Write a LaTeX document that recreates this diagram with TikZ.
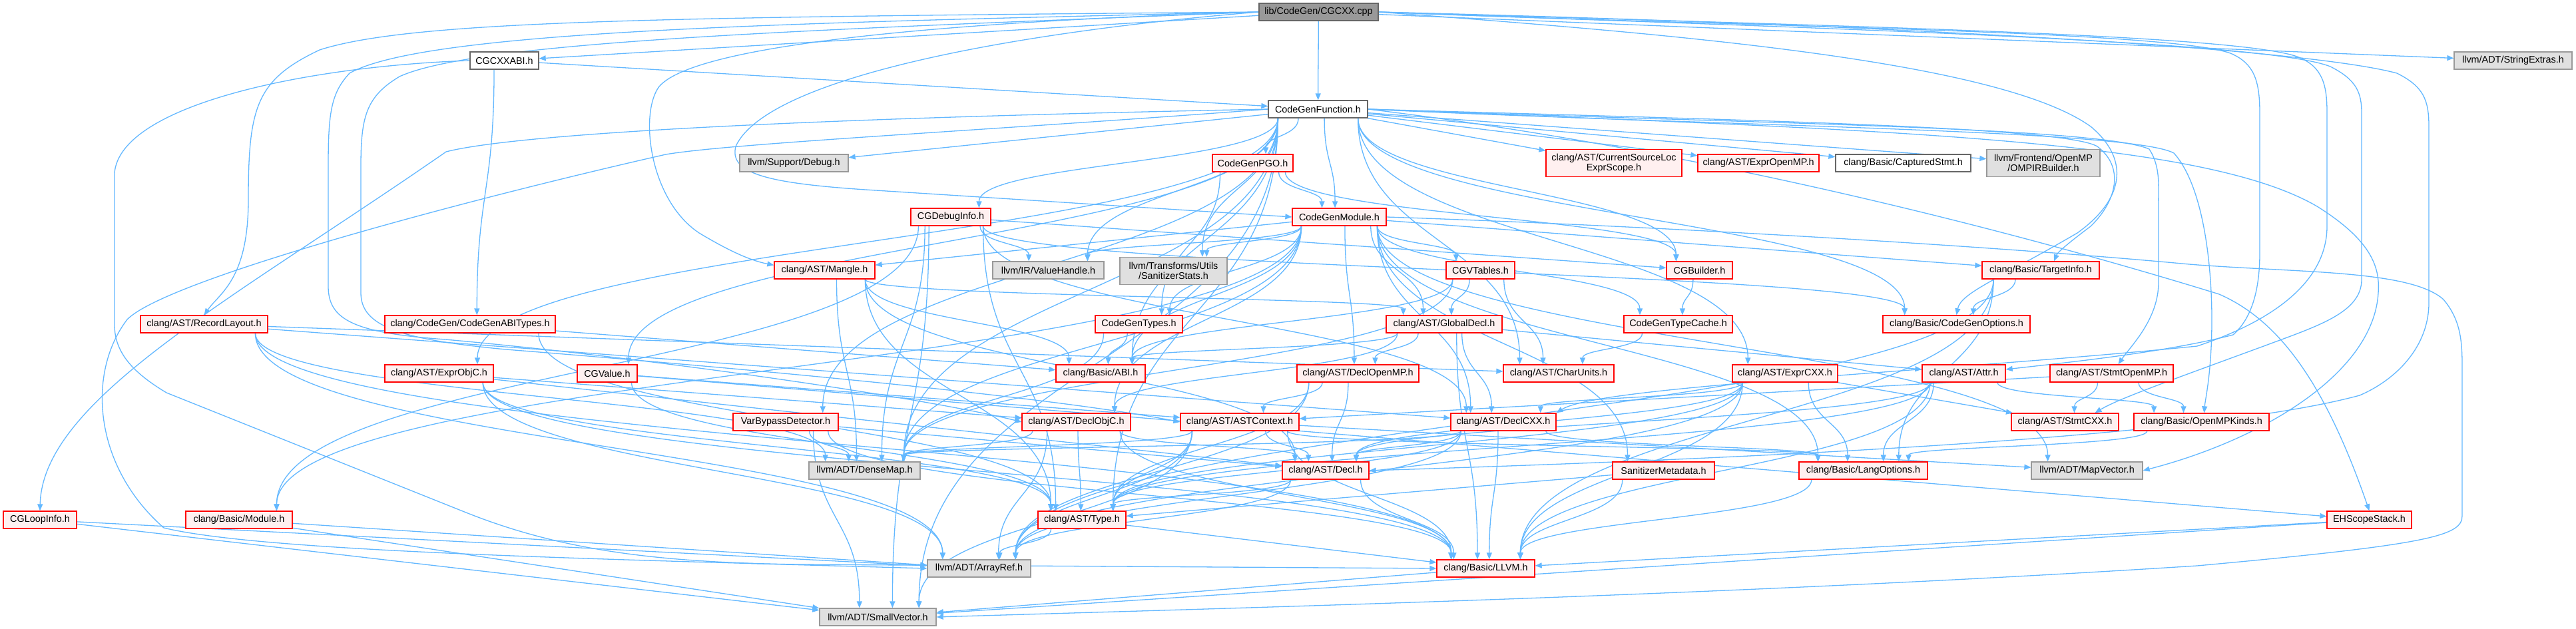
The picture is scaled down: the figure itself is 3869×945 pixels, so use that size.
\documentclass[tikz,border=0pt]{standalone}
\usepackage{fontspec}
\setmainfont{Liberation Sans}
\usetikzlibrary{arrows.meta,calc}
\pgfdeclarelayer{bg}
\pgfsetlayers{bg,main}
\definecolor{edgec}{HTML}{63B8FF}
\definecolor{rfill}{HTML}{FFF0F0}
\definecolor{gfill}{HTML}{E0E0E0}
\definecolor{gborder}{HTML}{999999}
\definecolor{wborder}{HTML}{666666}
\definecolor{rootfill}{HTML}{999999}
\tikzset{
 base/.style={rectangle, inner sep=0pt, minimum height=26pt, align=center, font=\fontsize{14.4}{15}\selectfont, line width=1.3pt},
 rn/.style={base, draw=red, fill=rfill},
 gn/.style={base, draw=gborder, fill=gfill},
 wn/.style={base, draw=wborder, fill=white},
 rootn/.style={base, draw=wborder, fill=rootfill},
 two/.style={minimum height=41pt},
 arr/.style={draw=edgec, line width=1.3pt, -{Triangle[length=10pt,width=8pt]}},
}
\newcommand\mynode[6]{\node[#1, minimum width=#2pt] (#3) at (#4,#5) {#6};}
\newcommand\sedge[2]{\draw[arr] (#1) -- (#2);}
\newcommand\cedge[2]{\draw[arr] let \p1=(#1.south), \p2=(#2.north), \p3=(#1.south east), \p4=(#2.north east),
 \n1={max(-0.8*(\x3-\x1),min(0.8*(\x3-\x1),0.3*(\x2-\x1)))},
 \n2={max(-0.7*(\x4-\x2),min(0.7*(\x4-\x2),0.2*(\x1-\x2)))}
 in ({\x1+\n1},\y1) .. controls ({\x1+\n1},{0.5*(\y1+\y2)}) and ({\x2+\n2},{0.5*(\y1+\y2)}) .. ({\x2+\n2},\y2);}
\begin{document}
\begin{tikzpicture}[x=1pt,y=-1pt]
\useasboundingbox (0,0) rectangle (3869,945);
% nodes
\mynode{rootn}{179}{root}{1980.5}{18}{lib/CodeGen/CGCXX.cpp}
\mynode{wn}{103}{abi}{757.5}{91}{CGCXXABI.h}
\mynode{gn}{177}{strx}{3774.5}{91}{llvm/ADT/StringExtras.h}
\mynode{wn}{149}{cgf}{1979.5}{164}{CodeGenFunction.h}
\mynode{gn}{163}{dbg}{1192.5}{245}{llvm/Support/Debug.h}
\mynode{rn}{121}{pgo}{1881.5}{245}{CodeGenPGO.h}
\mynode{rn,two}{204}{csl}{2424}{245}{clang/AST/CurrentSourceLoc\\ExprScope.h}
\mynode{rn}{182}{eomp}{2641}{245}{clang/AST/ExprOpenMP.h}
\mynode{wn}{203}{cstmt}{2858.5}{245}{clang/Basic/CapturedStmt.h}
\mynode{gn,two}{170}{omp}{3069}{245}{llvm/Frontend/OpenMP\\/OMPIRBuilder.h}
\mynode{rn}{120}{cgdi}{1428}{326}{CGDebugInfo.h}
\mynode{rn}{141}{cgm}{2011.5}{326}{CodeGenModule.h}
\mynode{rn}{151}{mangle}{1238.5}{406}{clang/AST/Mangle.h}
\mynode{gn}{167}{vh}{1574.5}{406}{llvm/IR/ValueHandle.h}
\mynode{gn,two}{161}{sstats}{1762.5}{407}{llvm/Transforms/Utils\\/SanitizerStats.h}
\mynode{rn}{103}{vtab}{2223.5}{406}{CGVTables.h}
\mynode{rn}{99}{bld}{2552.5}{406}{CGBuilder.h}
\mynode{rn}{176}{ti}{3065}{406}{clang/Basic/TargetInfo.h}
\mynode{rn}{191}{rl}{306.5}{487}{clang/AST/RecordLayout.h}
\mynode{rn}{256}{abit}{706}{487}{clang/CodeGen/CodeGenABITypes.h}
\mynode{rn}{131}{cgt}{1710.5}{487}{CodeGenTypes.h}
\mynode{rn}{174}{gd}{2169}{487}{clang/AST/GlobalDecl.h}
\mynode{rn}{163}{tc}{2520.5}{487}{CodeGenTypeCache.h}
\mynode{rn}{221}{cgo}{2938.5}{487}{clang/Basic/CodeGenOptions.h}
\mynode{rn}{163}{eobjc}{659.5}{561}{clang/AST/ExprObjC.h}
\mynode{rn}{90}{cgv}{912}{561}{CGValue.h}
\mynode{rn}{134}{babi}{1653}{561}{clang/Basic/ABI.h}
\mynode{rn}{183}{domp}{2039.5}{561}{clang/AST/DeclOpenMP.h}
\mynode{rn}{166}{cu}{2341}{561}{clang/AST/CharUnits.h}
\mynode{rn}{158}{ecxx}{2681}{561}{clang/AST/ExprCXX.h}
\mynode{rn}{125}{attr}{2949.5}{561}{clang/AST/Attr.h}
\mynode{rn}{185}{somp}{3171.5}{561}{clang/AST/StmtOpenMP.h}
\mynode{rn}{158}{vbd}{1180}{634}{VarBypassDetector.h}
\mynode{rn}{163}{dobjc}{1616.5}{634}{clang/AST/DeclObjC.h}
\mynode{rn}{178}{astc}{1862}{634}{clang/AST/ASTContext.h}
\mynode{rn}{158}{dcxx}{2258}{634}{clang/AST/DeclCXX.h}
\mynode{rn}{161}{scxx}{3101.5}{634}{clang/AST/StmtCXX.h}
\mynode{rn}{203}{ompk}{3306.5}{634}{clang/Basic/OpenMPKinds.h}
\mynode{gn}{167}{dmap}{1298.5}{707}{llvm/ADT/DenseMap.h}
\mynode{rn}{130}{decl}{1991}{707}{clang/AST/Decl.h}
\mynode{rn}{153}{smeta}{2498.5}{707}{SanitizerMetadata.h}
\mynode{rn}{193}{lo}{2798.5}{707}{clang/Basic/LangOptions.h}
\mynode{gn}{167}{mvec}{3134.5}{707}{llvm/ADT/MapVector.h}
\mynode{rn}{110}{loop}{60}{781}{CGLoopInfo.h}
\mynode{rn}{160}{mod}{359}{781}{clang/Basic/Module.h}
\mynode{rn}{132}{type}{1625}{781}{clang/AST/Type.h}
\mynode{rn}{127}{ehs}{3558.5}{781}{EHScopeStack.h}
\mynode{gn}{155}{aref}{1470.5}{854}{llvm/ADT/ArrayRef.h}
\mynode{rn}{147}{llvm}{2231.5}{854}{clang/Basic/LLVM.h}
\mynode{gn}{175}{svec}{1318.5}{927}{llvm/ADT/SmallVector.h}
\begin{pgfonlayer}{bg}
\fill[white] (0,0) rectangle (3869,945);
% root
\sedge{root}{abi}
\cedge{root}{cgf}
\draw[arr] (root.west) .. controls (1500,50) and (1150,120) .. (1105,220) .. controls (1095,260) and (1150,275) .. (1300,285) -- (cgm.west);
\draw[arr] (root.west) .. controls (1200,34) and (640,45) .. (525,110) .. controls (497,140) and (493,170) .. (493,250) -- (493,430) .. controls (493,480) and (530,500) .. (669,510) .. controls (1000,540) and (1400,600) .. (dobjc.west);
\draw[arr] (root.west) .. controls (1250,44) and (720,60) .. (600,115) .. controls (550,145) and (542,175) .. (542,250) -- (542,440) .. controls (542,490) and (600,510) .. (760,525) .. controls (1200,560) and (1600,600) .. (astc.west);
\draw[arr] (root.east) .. controls (2600,40) and (3250,45) .. (3350,80) .. controls (3385,95) and (3394,120) .. (3394,170) -- (3394,380) .. controls (3394,440) and (3380,480) .. (3354,503) .. controls (3250,530) and (3100,545) .. ([yshift=6pt]attr.east);
\draw[arr] (root.east) .. controls (2800,36) and (3450,70) .. (3600,110) .. controls (3640,130) and (3648,150) .. (3648,190) -- (3648,455) .. controls (3648,520) and (3600,570) .. (3544,594) .. controls (3300,660) and (2600,690) .. (decl.east);
\draw[arr] (root.east) .. controls (2700,38) and (3350,50) .. (3450,85) .. controls (3490,100) and (3495,130) .. (3495,170) -- (3495,340) .. controls (3495,420) and (3420,480) .. (3300,520) .. controls (2900,560) and (2400,580) .. (dcxx.north east);
\draw[arr] (root.west) .. controls (1500,30) and (1050,60) .. (990,130) .. controls (960,170) and (975,300) .. (1050,350) .. controls (1100,380) and (1130,392) .. ([yshift=-6pt]mangle.north west);
\draw[arr] (root.west) .. controls (1000,26) and (620,30) .. (480,75) .. controls (385,120) and (373,160) .. (373,300) .. controls (373,420) and (330,440) .. (rl.north);
\draw[arr] (root.east) .. controls (2700,42) and (3400,60) .. (3500,100) .. controls (3540,120) and (3547,140) .. (3547,170) -- (3547,420) .. controls (3547,470) and (3480,490) .. (3400,520) .. controls (3250,575) and (3180,600) .. ([xshift=45pt]scxx.north);
\draw[arr] (root.east) .. controls (2500,50) and (3000,90) .. (3140,190) .. controls (3200,240) and (3190,300) .. (3120,350) .. controls (3000,420) and (2945,440) .. (cgo.north);
\sedge{root}{strx}
% abi
\sedge{abi}{cgf}
\draw[arr] (abi.west) .. controls (450,100) and (180,160) .. (172,260) -- (172,488) .. controls (172,530) and (200,560) .. (250,590) -- (700,770) .. controls (850,830) and (1000,845) .. (1200,848) -- (llvm.west);
\cedge{abi}{abit}
% cgf
\cedge{cgf}{bld}
\cedge{cgf}{cgdi}
\draw[arr] (cgf.west) .. controls (1100,180) and (760,205) .. (670,228) .. controls (350,450) and (64,600) .. (loop.north);
\cedge{cgf}{cgv}
\cedge{cgf}{cgm}
\cedge{cgf}{pgo}
\draw[arr] (cgf.east) .. controls (2600,230) and (3100,370) .. (3333,442) .. controls (3420,480) and (3490,570) .. (ehs.north);
\cedge{cgf}{vbd}
\cedge{cgf}{cu}
\sedge{cgf}{csl}
\cedge{cgf}{ecxx}
\cedge{cgf}{eobjc}
\sedge{cgf}{eomp}
\draw[arr] (cgf.east) .. controls (2600,185) and (3150,190) .. (3228,224) .. controls (3245,250) and (3242,280) .. (3242,310) -- (3242,424) .. controls (3242,480) and (3200,520) .. ([xshift=10pt]somp.north);
\cedge{cgf}{type}
\cedge{cgf}{babi}
\sedge{cgf}{cstmt}
\cedge{cgf}{cgo}
\draw[arr] (cgf.east) .. controls (2600,190) and (3200,195) .. (3265,230) .. controls (3310,280) and (3322,400) .. (3322,480) .. controls (3322,560) and (3312,600) .. ([xshift=4pt]ompk.north);
\draw[arr] (cgf.east) .. controls (2600,180) and (3100,190) .. (3150,220) .. controls (3190,250) and (3181,300) .. (3140,340) .. controls (3100,370) and (3090,380) .. ([xshift=20pt]ti.north);
\draw[arr] (cgf.west) .. controls (1500,195) and (1100,215) .. (1000,232) .. controls (700,300) and (250,420) .. (191,480) .. controls (130,560) and (140,700) .. (246,793) .. controls (394,829) and (900,840) .. (aref.west);
\cedge{cgf}{dmap}
\draw[arr] (cgf.east) .. controls (2800,195) and (3300,205) .. (3480,310) .. controls (3560,360) and (3575,400) .. (3572,440) .. controls (3565,560) and (3400,660) .. (mvec.east);
\cedge{cgf}{svec}
\sedge{cgf}{omp}
\cedge{cgf}{vh}
\sedge{cgf}{dbg}
\cedge{cgf}{sstats}
% cgm
\cedge{cgm}{vtab}
\cedge{cgm}{tc}
\cedge{cgm}{cgt}
\cedge{cgm}{smeta}
\cedge{cgm}{dcxx}
\cedge{cgm}{dobjc}
\cedge{cgm}{domp}
\cedge{cgm}{gd}
\sedge{cgm}{mangle}
\cedge{cgm}{babi}
\cedge{cgm}{lo}
\cedge{cgm}{mod}
\sedge{cgm}{ti}
\cedge{cgm}{dmap}
\cedge{cgm}{mvec}
\cedge{cgm}{vh}
\cedge{cgm}{sstats}
\draw[arr] (cgm.east) .. controls (2500,340) and (3000,370) .. (3288,397) .. controls (3450,410) and (3620,405) .. (3670,450) .. controls (3695,480) and (3698,510) .. (3698,550) -- (3698,775) .. controls (3698,805) and (3650,818) .. (3300,850) .. controls (2600,895) and (1800,915) .. (svec.east);
% cgdi
\sedge{cgdi}{bld}
\cedge{cgdi}{dcxx}
\cedge{cgdi}{type}
\cedge{cgdi}{cgo}
\cedge{cgdi}{mod}
\cedge{cgdi}{dmap}
\cedge{cgdi}{svec}
\cedge{cgdi}{vh}
% pgo
\cedge{pgo}{bld}
\cedge{pgo}{cgm}
\cedge{pgo}{cgt}
% mangle
\cedge{mangle}{decl}
\cedge{mangle}{gd}
\cedge{mangle}{type}
\cedge{mangle}{babi}
\cedge{mangle}{dmap}
% vtab
\cedge{vtab}{cu}
\cedge{vtab}{gd}
\cedge{vtab}{babi}
\cedge{vtab}{dmap}
% bld
\cedge{bld}{tc}
% ti
\cedge{ti}{cgo}
\cedge{ti}{lo}
\cedge{ti}{llvm}
\cedge{ti}{aref}
% rl
\sedge{rl}{cu}
\sedge{rl}{dcxx}
\cedge{rl}{llvm}
\cedge{rl}{aref}
\cedge{rl}{dmap}
% abit
\cedge{abit}{type}
\sedge{abit}{babi}
% cgt
\cedge{cgt}{babi}
\cedge{cgt}{dmap}
% gd
\sedge{gd}{attr}
\cedge{gd}{dcxx}
\cedge{gd}{dobjc}
\cedge{gd}{domp}
\cedge{gd}{babi}
\cedge{gd}{llvm}
% tc
\cedge{tc}{cu}
% eobjc
\sedge{eobjc}{decl}
\sedge{eobjc}{dobjc}
\cedge{eobjc}{type}
\cedge{eobjc}{llvm}
\cedge{eobjc}{aref}
% cgv
\sedge{cgv}{ehs}
\sedge{cgv}{astc}
\cedge{cgv}{type}
% domp
\cedge{domp}{astc}
\cedge{domp}{decl}
\cedge{domp}{type}
\cedge{domp}{aref}
% ecxx
\cedge{ecxx}{decl}
\cedge{ecxx}{dcxx}
\sedge{ecxx}{scxx}
\cedge{ecxx}{type}
\cedge{ecxx}{llvm}
\cedge{ecxx}{lo}
\cedge{ecxx}{aref}
% attr
\cedge{attr}{decl}
\cedge{attr}{type}
\cedge{attr}{llvm}
\cedge{attr}{lo}
\cedge{attr}{ompk}
% somp
\sedge{somp}{astc}
\cedge{somp}{scxx}
\cedge{somp}{ompk}
% vbd
\sedge{vbd}{decl}
\cedge{vbd}{llvm}
\cedge{vbd}{dmap}
\cedge{vbd}{svec}
% dobjc
\cedge{dobjc}{decl}
\cedge{dobjc}{type}
\cedge{dobjc}{llvm}
\cedge{dobjc}{aref}
\cedge{dobjc}{dmap}
% astc
\cedge{astc}{decl}
\cedge{astc}{type}
\cedge{astc}{llvm}
\cedge{astc}{lo}
\cedge{astc}{aref}
\cedge{astc}{dmap}
\sedge{astc}{mvec}
\cedge{astc}{svec}
% dcxx
\cedge{dcxx}{decl}
\cedge{dcxx}{type}
\cedge{dcxx}{llvm}
\cedge{dcxx}{lo}
\cedge{dcxx}{aref}
\cedge{dcxx}{dmap}
% others
\cedge{ompk}{lo}
\cedge{decl}{type}
\cedge{decl}{llvm}
\cedge{decl}{aref}
\sedge{smeta}{type}
\cedge{smeta}{llvm}
\cedge{lo}{llvm}
\sedge{loop}{aref}
\sedge{loop}{svec}
\sedge{mod}{aref}
\sedge{mod}{svec}
\sedge{type}{llvm}
\cedge{type}{aref}
\sedge{ehs}{llvm}
\sedge{ehs}{svec}
\sedge{llvm}{svec}
\end{pgfonlayer}
\end{tikzpicture}
\end{document}
